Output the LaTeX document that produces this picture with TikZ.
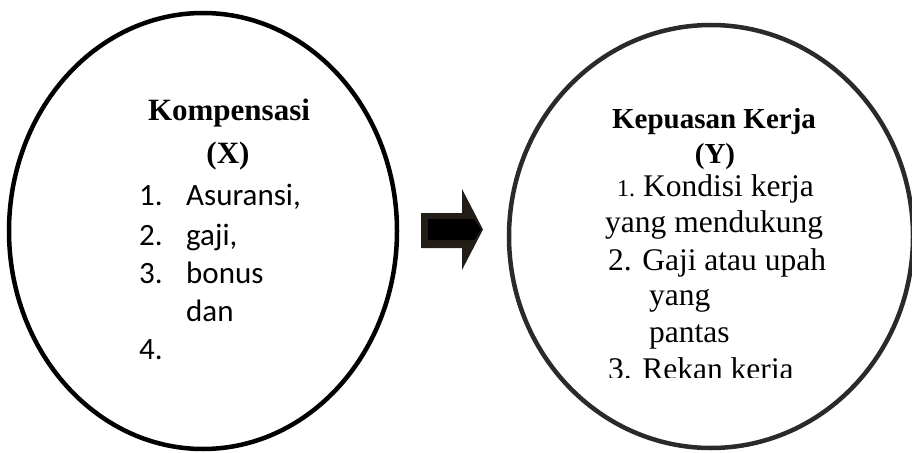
\documentclass[tikz,border=0pt]{standalone}
\usepackage{fontspec}
\setmainfont{Liberation Serif}
\newfontfamily\calfont{Carlito}
\usetikzlibrary{shapes.geometric}
\definecolor{arrowbrown}{HTML}{221E17}
\definecolor{ringgray}{HTML}{2A2A2A}
\begin{document}
\begin{tikzpicture}[x=1pt,y=-1pt,
  ring/.style={ellipse, line width=4.5pt, inner sep=0pt, outer sep=0pt},
  lhead/.style={anchor=base, inner sep=0pt, font=\fontsize{31}{31}\selectfont\bfseries},
  rhead/.style={anchor=base, inner sep=0pt, font=\fontsize{29}{29}\selectfont\bfseries},
  litem/.style={anchor=base west, inner sep=0pt, font=\calfont\fontsize{31}{31}\selectfont},
  ritem/.style={anchor=base west, inner sep=0pt, font=\fontsize{31.5}{31.5}\selectfont},
  rnum/.style={anchor=base west, inner sep=0pt, font=\fontsize{24}{24}\selectfont}]
\useasboundingbox (0,0) rectangle (912,452);
% ellipses
\node[ring, draw=black, minimum width=388pt, minimum height=436pt] (X) at (203,231) {};
\node[ring, draw=ringgray, minimum width=404pt, minimum height=423pt] (Y) at (711,236.5) {};
% block arrow
\coordinate (a1) at (421,213);
\coordinate (a2) at (462,213);
\coordinate (a3) at (462,189);
\coordinate (a4) at (483,229.5);
\coordinate (a5) at (462,270);
\coordinate (a6) at (462,248);
\coordinate (a7) at (421,248);
\fill[arrowbrown] (a1) -- (a2) -- (a3) -- (a4) -- (a5) -- (a6) -- (a7) -- cycle;
\coordinate (b1) at (428,219);
\coordinate (b2) at (474,219);
\coordinate (b3) at (481,229.5);
\coordinate (b4) at (474,240);
\coordinate (b5) at (428,240);
\fill[black] (b1) -- (b2) -- (b3) -- (b4) -- (b5) -- cycle;
% left text
\node[lhead] (xt) at (229,120) {Kompensasi};
\node[lhead] (xv) at (228,163) {(X)};
\node[litem] (x1n) at (139,205) {1.};
\node[litem] (x1) at (186,205) {Asuransi,};
\node[litem] (x2n) at (139,245) {2.};
\node[litem] (x2) at (186,245) {gaji,};
\node[litem] (x3n) at (139,283) {3.};
\node[litem] (x3) at (186,283) {bonus};
\node[litem] (x3b) at (186,321) {dan};
\node[litem] (x4n) at (139,359) {4.};
% right text
\node[rhead] (yt) at (714,128) {Kepuasan Kerja};
\node[rhead] (yv) at (715,163) {(Y)};
\node[rnum] (y1n) at (617,196) {1.};
\node[ritem] (y1) at (643,196) {Kondisi kerja};
\node[ritem] (y1b) at (605,232) {yang mendukung};
\node[ritem] (y2) at (608,270) {2. Gaji atau upah};
\node[ritem] (y2b) at (649,305) {yang};
\node[ritem] (y2c) at (649,342) {pantas};
\begin{scope}
\clip (600,350) rectangle (840,377.5);
\node[ritem] (y3) at (608,379) {3. Rekan kerja};
\end{scope}
\end{tikzpicture}
\end{document}
